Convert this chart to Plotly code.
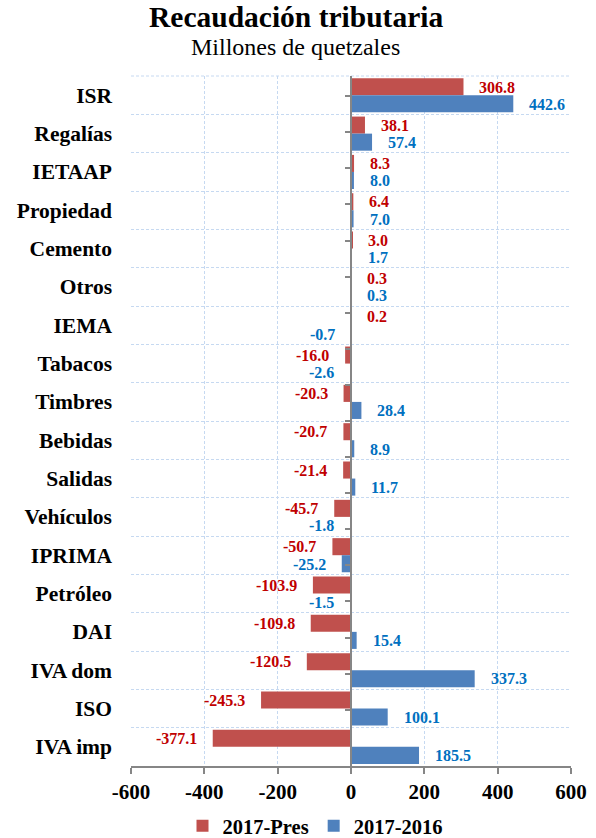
import plotly.graph_objects as go

categories = ["ISR", "Regalías", "IETAAP", "Propiedad", "Cemento", "Otros", "IEMA",
              "Tabacos", "Timbres", "Bebidas", "Salidas", "Vehículos", "IPRIMA",
              "Petróleo", "DAI", "IVA dom", "ISO", "IVA imp"]
pres = [306.8, 38.1, 8.3, 6.4, 3.0, 0.3, 0.2, -16.0, -20.3, -20.7, -21.4, -45.7,
        -50.7, -103.9, -109.8, -120.5, -245.3, -377.1]
interanual = [442.6, 57.4, 8.0, 7.0, 1.7, 0.3, -0.7, -2.6, 28.4, 8.9, 11.7, -1.8,
              -25.2, -1.5, 15.4, 337.3, 100.1, 185.5]
x_ticks = [-600, -400, -200, 0, 200, 400, 600]

FONT = "Liberation Serif, Times New Roman, serif"
RED, BLUE = "#C0504D", "#4F81BD"
RED_T, BLUE_T = "#C00000", "#0070C0"
GRID = "#C6D9F1"
AXIS = "#868686"

W, H = 596, 838
ML, MR, MT, MB = 131, 25, 76, 72
PW, PH = W - ML - MR, H - MT - MB

fig = go.Figure()
fig.add_trace(go.Bar(y=categories, x=pres, orientation="h", name="2017-Pres",
                     marker_color=RED, marker_line_width=0))
fig.add_trace(go.Bar(y=categories, x=interanual, orientation="h", name="2017-2016",
                     marker_color=BLUE, marker_line_width=0))
# invisible trace for the vertical axis through zero
fig.add_trace(go.Scatter(y=categories, x=[0] * len(categories), yaxis="y2", mode="markers",
                         marker_opacity=0, showlegend=False, hoverinfo="skip"))

annotations = []
for series, color, yshift in ((pres, RED_T, 8.3), (interanual, BLUE_T, -8.8)):
    for cat, v in zip(categories, series):
        pos = v >= 0
        annotations.append(dict(
            x=v, y=cat, xref="x", yref="y", text=f"{v:.1f}", showarrow=False,
            xanchor="left" if pos else "right", xshift=14 if pos else -14,
            yshift=yshift, font=dict(family=FONT, size=16, color=color, weight="bold")))

annotations.append(dict(text="Recaudación tributaria", x=(295.5 - ML) / PW, y=1 + (MT - 17) / PH,
                        xref="paper", yref="paper", showarrow=False,
                        xanchor="center", yanchor="middle",
                        font=dict(family=FONT, size=29.5, color="black", weight="bold")))
annotations.append(dict(text="Millones de quetzales", x=(295 - ML) / PW, y=1 + (MT - 47) / PH,
                        xref="paper", yref="paper", showarrow=False,
                        xanchor="center", yanchor="middle",
                        font=dict(family=FONT, size=24, color="black")))

fig.update_layout(
    width=W, height=H,
    paper_bgcolor="white", plot_bgcolor="white",
    margin=dict(l=ML, r=MR, t=MT, b=MB, autoexpand=False),
    barmode="group", bargap=0.11, bargroupgap=0,
    font=dict(family=FONT, color="black"),
    xaxis=dict(range=[-600, 600], tickvals=x_ticks, ticktext=[str(t) for t in x_ticks],
               showgrid=True, gridcolor=GRID, griddash="3px,2px", gridwidth=1,
               zeroline=False, showline=True, linecolor=AXIS, linewidth=2,
               ticks="outside", ticklen=6, tickcolor=AXIS, tickwidth=2, automargin=False,
               tickfont=dict(family=FONT, size=21, color="black", weight="bold"), domain=[0, 1]),
    yaxis=dict(autorange="reversed", categoryorder="array", categoryarray=categories,
               tickson="boundaries", showgrid=True, gridcolor=GRID, griddash="3px,2px",
               ticks="", showline=False, zeroline=False, automargin=False,
               tickfont=dict(family=FONT, size=21.5, color="black", weight="bold"),
               ticklabelstandoff=18),
    yaxis2=dict(overlaying="y", anchor="free", position=0.5, side="left",
                autorange="reversed", categoryorder="array", categoryarray=categories,
                tickson="boundaries", showgrid=False, showticklabels=False,
                showline=True, linecolor=AXIS, linewidth=2, automargin=False,
                ticks="outside", ticklen=5, tickcolor=AXIS, tickwidth=2, zeroline=False),
    legend=dict(orientation="h", x=(315.5 - ML) / PW, xanchor="center",
                yref="container", y=1 - 826 / H, yanchor="middle",
                font=dict(family=FONT, size=20.5, color="black", weight="bold"), itemwidth=30,
                traceorder="normal"),
    shapes=[dict(type="line", xref="paper", yref="paper", x0=0, x1=1, y0=1, y1=1,
                 line=dict(color=GRID, width=1, dash="3px,2px"), layer="below")],
    annotations=annotations,
    showlegend=True,
)

fig.write_html("out.html", config={"displayModeBar": False},
               post_script="document.body.style.margin='0';")
